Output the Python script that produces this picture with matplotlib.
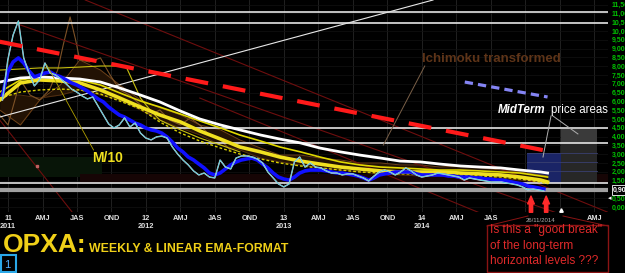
import numpy as np
import matplotlib
matplotlib.use("Agg")
import matplotlib.pyplot as plt
from matplotlib.patches import Rectangle
from matplotlib.lines import Line2D

W, H = 625, 273

# ---- data (dates in fractional years, prices in $) ----
# biweekly closes, early Jan 2011 -> 26 Nov 2014
t_start = 2010.96
price = [6.08, 8.35, 9.77, 10.57, 8.47, 7.61, 6.88, 7.22, 8.18, 7.61,
         7.50, 7.27, 6.99, 6.70, 6.53, 6.31, 6.14, 6.25, 5.74, 5.23,
         4.72, 4.49, 4.66, 5.06, 4.55, 4.77, 4.20, 3.92, 3.81, 3.98,
         4.03, 3.92, 3.41, 3.01, 2.67, 2.39, 2.05, 1.82, 1.93, 1.70,
         1.65, 2.67, 2.27, 2.16, 2.78, 2.90, 2.90, 2.84, 2.73, 2.50,
         1.99, 1.65, 1.31, 1.14, 1.31, 2.56, 2.84, 2.27, 2.50, 2.27,
         2.22, 2.05, 1.93, 1.93, 1.82, 1.88, 1.88, 1.76, 1.65, 1.48,
         1.76, 1.99, 2.10, 1.99, 1.82, 1.99, 2.22, 2.05, 1.82, 1.70,
         1.76, 1.82, 1.93, 1.88, 1.82, 1.76, 1.70, 1.53, 1.65, 1.59,
         1.53, 1.48, 1.42, 1.42, 1.42, 1.36, 1.31, 1.25, 1.14, 0.97,
         1.02, 0.97, 0.91]
ema_fast = [6.36, 7.67, 8.24, 8.47, 8.18, 7.73, 7.39, 7.50, 7.61, 7.67,
            7.50, 7.39, 7.22, 7.05, 6.93, 6.76, 6.59, 6.36, 6.14, 5.97,
            5.68, 5.45, 5.23, 5.11, 4.94, 4.77, 4.66, 4.49, 4.38, 4.32,
            4.20, 3.98, 3.69, 3.35, 3.13, 2.84, 2.67, 2.44, 2.22, 1.93,
            1.82, 1.93, 2.16, 2.39, 2.56, 2.67, 2.73, 2.78, 2.67, 2.44,
            2.22, 1.93, 1.70, 1.59, 1.53, 1.70, 1.93, 2.05, 2.10, 2.10,
            2.10, 2.05, 1.99, 1.93, 1.93, 1.88, 1.82, 1.76, 1.65, 1.53,
            1.65, 1.82, 1.88, 1.93, 1.99, 1.99, 1.99, 1.99, 1.88, 1.82,
            1.82, 1.82, 1.82, 1.82, 1.76, 1.76, 1.70, 1.70, 1.70, 1.65,
            1.65, 1.59, 1.59, 1.53, 1.53, 1.48, 1.42, 1.36, 1.31, 1.19,
            1.14, 1.08, 1.02]

# slower averages + ichimoku spans
smooth_dates = [2010.94, 2011.09, 2011.23, 2011.38, 2011.52, 2011.67, 2011.81, 2011.96,
                2012.10, 2012.25, 2012.39, 2012.54, 2012.68, 2012.83, 2012.97, 2013.12,
                2013.26, 2013.41, 2013.55, 2013.70, 2013.84, 2013.99, 2014.13, 2014.28,
                2014.42, 2014.57, 2014.71, 2014.86, 2014.91]
ema_long = [7.10, 7.33, 7.39, 7.33, 7.27, 7.10, 6.76, 6.36, 5.97, 5.45, 5.00, 4.66,
            4.38, 4.09, 3.86, 3.64, 3.35, 3.13, 2.95, 2.78, 2.61, 2.56, 2.44, 2.33,
            2.27, 2.22, 2.10, 1.99, 1.93]
ema_mid = [6.08, 7.05, 7.22, 7.16, 7.05, 6.65, 6.19, 5.68, 5.23, 4.83, 4.32, 3.86,
           3.41, 3.13, 2.84, 2.61, 2.44, 2.27, 2.16, 2.05, 1.99, 1.99, 1.99, 1.93,
           1.88, 1.82, 1.70, 1.53, 1.42]
ema_mid2 = [6.53, 7.22, 7.39, 7.33, 7.22, 6.93, 6.48, 6.02, 5.68, 5.28, 4.89, 4.49,
            4.09, 3.75, 3.41, 3.13, 2.84, 2.56, 2.39, 2.27, 2.22, 2.16, 2.10, 2.10,
            2.05, 1.99, 1.93, 1.76, 1.70]
ema_mid3 = [6.19, 6.53, 6.65, 6.70, 6.65, 6.42, 6.02, 5.57, 4.83, 4.20, 3.75, 3.35,
            3.01, 2.73, 2.50, 2.33, 2.22, 2.10, 1.99, 1.93, 1.88, 1.88, 1.82, 1.82,
            1.76, 1.70, 1.59, 1.42, 1.31]
span_a = [5.51, 4.66, 6.08, 6.93, 8.35, 7.78, 6.93, 6.08, 5.63, 5.23, 4.66, 4.38,
          3.81, 3.35, 2.95, 2.95, 2.78, 2.67, 2.50, 2.50, 2.39, 2.39, 2.27, 2.33,
          2.22, 2.10, 1.99, 1.82, 1.76]
span_b = [6.36, 6.36, 6.19, 6.36, 6.65, 6.36, 6.08, 5.51, 4.94, 4.49, 4.09, 3.52,
          3.24, 2.78, 2.56, 2.39, 2.22, 2.10, 1.99, 1.88, 1.82, 1.76, 1.76, 1.70,
          1.65, 1.65, 1.53, 1.42, 1.36]

chikou_dates = [2010.94, 2011.00, 2011.05, 2011.09, 2011.16, 2011.23, 2011.30, 2011.36,
                2011.40, 2011.45, 2011.49, 2011.52, 2011.59, 2011.67, 2011.74, 2011.81,
                2011.88, 2011.96, 2012.03, 2012.10, 2012.17, 2012.25, 2012.32, 2012.39,
                2012.46, 2012.54, 2012.61]
chikou = [5.23, 4.66, 6.08, 7.22, 6.36, 6.08, 6.65, 7.78, 9.20, 10.80, 9.49, 8.35,
          8.24, 8.47, 7.50, 6.65, 6.36, 5.80, 5.23, 5.51, 4.94, 4.66, 5.06, 4.66,
          4.09, 3.81, 3.24]

m10_dates = [2010.94, 2011.09, 2011.23, 2011.38, 2011.52, 2011.67, 2011.81, 2011.86,
             2011.91, 2011.96, 2012.03, 2012.10, 2012.25, 2012.39, 2012.54, 2012.68]
m10 = [7.78, 7.84, 7.90, 7.90, 7.95, 8.01, 8.01, 7.90, 7.05, 6.19, 5.51, 4.94,
       4.38, 3.92, 3.52, 3.13]

# horizontal levels and drawn trend lines
levels = [11.06, 10.44, 4.47, 3.62, 1.35]
support = 0.97
red_trend = ([2010.94, 2014.91], [9.39, 3.18])
blue_trend = ([2014.31, 2014.91], [7.10, 6.25])
white_trend = ([2010.94, 2014.08], [5.11, 11.76])
channel_lines = [([2011.56, 2015.36], [11.76, -0.34]),
                 ([2011.09, 2015.00], [10.34, -0.40]),
                 ([2010.94, 2011.47], [4.94, -0.34]),
                 ([2012.39, 2014.42], [6.19, -0.34])]
midterm_gray = (2015.01, 2015.27, 1.36, 4.43)
midterm_blue = (2014.76, 2015.01, 1.36, 3.07)
arrow_dates = [2014.79, 2014.90]
last_price = 0.90

quarters = np.arange(2011.0, 2015.26, 0.25)
quarter_labels = ["11\n2011", "AMJ", "JAS", "OND", "12\n2012", "AMJ", "JAS", "OND",
                  "13\n2013", "AMJ", "JAS", "OND", "14\n2014", "AMJ", "JAS", "", "", "AMJ"]

dates = t_start + np.arange(len(price)) / 26

plt.rcParams['font.family'] = ['Liberation Sans', 'DejaVu Sans']


def px(x, y):
    # pixel -> figure fraction
    return x / W, 1 - y / H


fig = plt.figure(figsize=(W / 100, H / 100), dpi=100, facecolor='black')
ax = fig.add_axes([0, 61 / H, 608 / W, 212 / H], facecolor='black')
ax.set_xlim(2010.942, 2015.348)
ax.set_ylim(-0.284, 11.76)
for s in ax.spines.values():
    s.set_visible(False)

# faint grid
for q in quarters:
    ax.axvline(q, color='#262626', lw=0.6, zorder=0)
for v in np.arange(0, 12, 0.5):
    ax.axhline(v, color='#121212', lw=0.5, zorder=0)

# dim volume-like zones
ax.add_patch(Rectangle((2010.94, 1.70), 0.74, 1.15, color='#081508', lw=0, zorder=0.5))
ax.add_patch(Rectangle((2011.52, 1.35), 3.83, 0.55, color='#160505', lw=0, zorder=0.5))

# midterm price areas
gx0, gx1, gy0, gy1 = midterm_gray
ax.add_patch(Rectangle((gx0, gy0), gx1 - gx0, gy1 - gy0, color='#272727', lw=0, zorder=1))
ax.add_patch(Rectangle((gx0, 3.62), gx1 - gx0, gy1 - 3.62, color='#3a3a3a', lw=0, zorder=1))
bx0, bx1, by0, by1 = midterm_blue
ax.add_patch(Rectangle((bx0, by0), bx1 - bx0, by1 - by0, color='#1a2466', lw=0, zorder=1))
for v in [3.07, 2.56, 2.05]:
    ax.plot([bx0, gx1], [v, v], color='#3a4070', lw=0.6, zorder=1.1)

# ichimoku cloud
ax.fill_between(smooth_dates, span_a, span_b, color='#221204', lw=0, zorder=1.5)
ax.plot(smooth_dates, span_a, color='#6e4219', lw=0.7, zorder=1.6)
ax.plot(smooth_dates, span_b, color='#522f12', lw=0.7, zorder=1.6)
ax.plot(chikou_dates, chikou, color='#7e5226', lw=0.8, zorder=1.6)

# channel / trend lines
for xs, ys in channel_lines:
    ax.plot(xs, ys, color='#6e0e0e', lw=0.8, zorder=2)
ax.plot([2011.21], [2.33], 's', ms=2, color='#c06060', zorder=2)
ax.plot(*white_trend, color='#e8e8e8', lw=0.8, zorder=2)

for v in levels:
    ax.axhline(v, color='#e4e4e4', lw=1.2, zorder=2.2)
ax.axhline(support, color='#a0a0a0', lw=3, zorder=2.2)

# averages
ax.plot(m10_dates, m10, color='#c8c010', lw=0.8, zorder=3)
ax.plot(smooth_dates, ema_mid3, color='#d8d000', lw=1, ls=(0, (2, 1.5)), zorder=3)
ax.plot(smooth_dates, ema_mid2, color='#e0d800', lw=1.2, zorder=3)
ax.plot(smooth_dates, ema_mid, color='#f0e020', lw=2.6, zorder=3.1)
ax.plot(smooth_dates, ema_long, color='white', lw=2, zorder=3.2)
ax.plot(dates, ema_fast, color='#1010ff', lw=2.6, zorder=3.3)
ax.plot(dates, price, color='#e8d0e8', lw=1.0, zorder=3.4)
ax.plot(dates, price, color='#30d0d0', lw=0.5, zorder=3.5)

red_line, = ax.plot(*red_trend, color='#ff1a1a', lw=3, zorder=4)
red_line.set_dashes([5.5, 3.6])
blue_line, = ax.plot(*blue_trend, color='#8484f4', lw=2.3, zorder=4)
blue_line.set_dashes([2.6, 1.6])

# red arrows at the last two weeks
for t in arrow_dates:
    ax.annotate('', xy=(t, 0.62), xytext=(t, -0.30),
                arrowprops=dict(arrowstyle='simple,head_length=0.7,head_width=0.6,tail_width=0.3',
                                color='#ff2a2a', mutation_scale=8, shrinkA=0, shrinkB=0),
                annotation_clip=False, zorder=5)
ax.plot([2015.01], [-0.17], '^', ms=2.5, color='white', zorder=5)

# leader lines
ax.plot([2014.02, 2013.72], [8.01, 3.52], color='#7a6048', lw=0.7, zorder=4)
ax.plot([2014.935, 2014.877], [5.17, 2.84], color='#b0b0b0', lw=0.7, zorder=4)
ax.plot([2014.949, 2015.13], [5.17, 4.15], color='#b0b0b0', lw=0.7, zorder=4)
ax.plot([2011.28, 2011.62], [8.07, 3.24], color='#b0a000', lw=0.6, zorder=4)

# axes ticks
ax.set_xticks(quarters)
ax.set_xticklabels(quarter_labels)
ax.tick_params(axis='x', length=0, pad=2, labelsize=5.3, labelcolor='#e0e0e0')
for lbl in ax.get_xticklabels():
    lbl.set_fontweight('bold')
    lbl.set_linespacing(1.2)
yt = np.arange(0, 11.51, 0.5)
ax.yaxis.tick_right()
ax.set_yticks(yt)
ax.set_yticklabels([f"{v:.2f}".replace('.', ',') for v in yt])
ax.tick_params(axis='y', length=0, pad=2.5, labelsize=5.0, labelcolor='#00c000')
for lbl in ax.get_yticklabels():
    lbl.set_fontweight('bold')

fig.text(*px(540, 221), "26/11/2014", fontsize=4.3, color='#b0b0b0', ha='center', va='center')
fig.text(*px(613, 190), f"{last_price:.2f}".replace('.', ','), fontsize=5.0, color='white',
         fontweight='bold', va='center', ha='left',
         bbox=dict(boxstyle='square,pad=0.15', fc='black', ec='white', lw=0.6))
fig.text(*px(610, 198), "◂", fontsize=5, color='white', ha='center', va='center',
         family='DejaVu Sans')

# annotations
fig.text(*px(491, 59), "Ichimoku transformed", fontsize=9.5, color='#5e3418',
         ha='center', va='center', fontweight='bold')
fig.text(*px(498, 110), "MidTerm", fontsize=8.3, color='white', fontstyle='italic',
         fontweight='bold', ha='left', va='center')
fig.text(*px(608, 110), "price areas", fontsize=8.3, color='white', ha='right', va='center')
fig.text(*px(108, 158), "M/10", fontsize=10, color='#f0e020', fontweight='bold',
         ha='center', va='center')

fig.text(*px(3, 252), "OPXA:", fontsize=19, color='#f0d018', fontweight='bold',
         ha='left', va='baseline')
fig.text(*px(89, 252), "WEEKLY & LINEAR EMA-FORMAT", fontsize=8.8, color='#f0d018',
         fontweight='bold', ha='left', va='baseline')

fig.add_artist(Rectangle(px(1, 272), 15 / W, 17 / H, transform=fig.transFigure,
                         fill=False, ec='#2aa8e8', lw=1.5))
fig.text(*px(7, 265), "1", fontsize=8, color='#50b0ff', ha='center', va='center')

# question box
fig.add_artist(Rectangle(px(487, 272), 121 / W, 47 / H, transform=fig.transFigure,
                         fill=False, ec='#8a1414', lw=1))
fig.text(*px(490, 224), 'Is this a "good break"\nof the long-term\nhorizontal levels ???',
         fontsize=8.6, color='#e02a2a', ha='left', va='top', linespacing=1.4)
fig.add_artist(Line2D([487 / W, 528 / W], [1 - 226 / H, 1 - 216 / H], color='#8a1414', lw=0.7))
fig.add_artist(Line2D([563 / W, 608 / W], [1 - 216 / H, 1 - 226 / H], color='#8a1414', lw=0.7))

fig.savefig('out.png', dpi=100, facecolor='black')
